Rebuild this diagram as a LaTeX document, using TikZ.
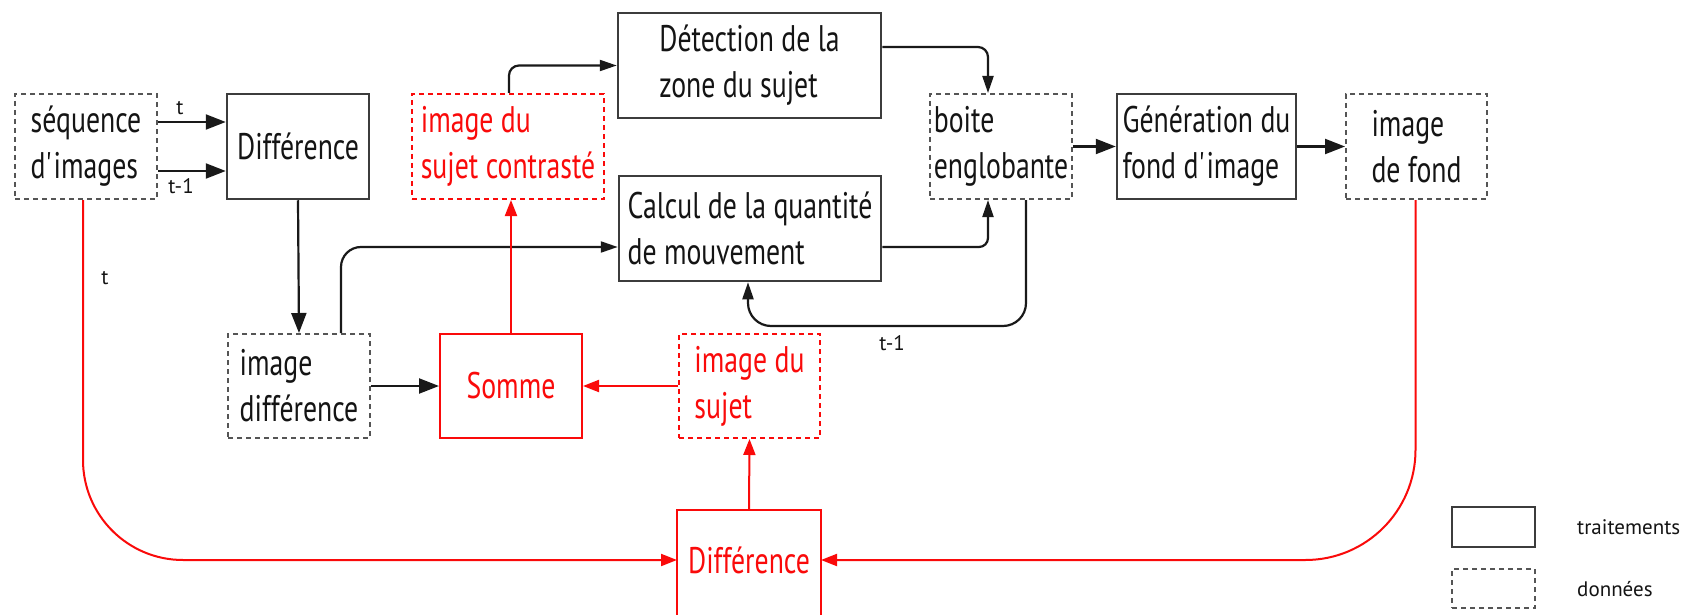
\documentclass[tikz,border=0pt]{standalone}
\usepackage{fontspec}
\setmainfont{PT Sans}[FakeStretch=0.75]
\newfontfamily\lblfam{PT Sans}
\usetikzlibrary{arrows.meta,calc}
\definecolor{boxgray}{RGB}{60,60,60}
\definecolor{dashgray}{RGB}{85,85,85}
\definecolor{lnblack}{RGB}{25,25,25}
\definecolor{txtblack}{RGB}{20,20,20}
\definecolor{myred}{RGB}{250,10,10}
\tikzset{
  box/.style={draw=boxgray, line width=2.5pt, minimum height=105pt, inner sep=0pt, align=left, text=txtblack, font={\fontsize{37}{46}\selectfont}},
  dbox/.style={box, draw=dashgray, line width=2pt, dash pattern=on 5pt off 4pt},
  rbox/.style={box, draw=myred, line width=2pt, text=myred},
  rdbox/.style={rbox, dash pattern=on 5pt off 4pt},
  conn/.style={draw=lnblack, line width=2.2pt},
  rconn/.style={draw=myred, line width=2pt},
  bigarr/.style={-{Triangle[length=20pt,width=15pt]}},
  midarr/.style={-{Triangle[length=17pt,width=11pt]}},
  redarr/.style={-{Triangle[length=16pt,width=12pt]}},
  lbl/.style={inner sep=0pt, text=txtblack, font={\lblfam\fontsize{21}{25}\selectfont}},
}
\begin{document}
\begin{tikzpicture}[x=1pt,y=-1pt]
\clip (0,0) rectangle (1681,615);
\fill[white] (0,0) rectangle (1681,615);
% nodes
\node[dbox, minimum width=142pt] (seq) at (86,146.5) {séquence\\d\textquotesingle images};
\node[box, minimum width=142pt] (dif1) at (298,146.5) {Différence};
\node[box, minimum width=263pt] (detect) at (749.5,65.5) {Détection de la\\zone du sujet};
\node[rdbox, minimum width=192pt] (contr) at (508,146.5) {image du\\sujet contrasté};
\node[box, minimum width=262pt] (calcul) at (750,228.5) {Calcul de la quantité\\de mouvement};
\node[dbox, minimum width=142pt] (boite) at (1001,146.5) {boite\\englobante};
\node[box, minimum width=179pt] (gen) at (1206.5,146.5) {Génération du\\fond d\textquotesingle image};
\node[dbox, minimum width=141pt] (fond) at (1416.5,146.5) {image\\de fond};
\node[dbox, minimum width=142pt, minimum height=104pt] (imdiff) at (299,386) {image\\différence};
\node[rbox, minimum width=142pt, minimum height=104pt] (somme) at (511,386) {Somme};
\node[rdbox, minimum width=141pt, minimum height=104pt] (sujet) at (749.5,386) {image du\\sujet};
\node[rbox, draw=none, minimum width=142pt, minimum height=98pt] (dif2) at (749,560) {Différence};
\draw[rconn] ($(dif2.south west)+(0,60)$) -- (dif2.north west) -- (dif2.north east) -- ($(dif2.south east)+(0,60)$);
% labels
\node[lbl] (lt1) at (180,108) {t};
\node[lbl] (lt2) at (181,186) {t-1};
\node[lbl] (lt3) at (105,278) {t};
\node[lbl] (lt4) at (892,343) {t-1};
% legend
\node[box, line width=2.5pt, minimum width=83pt, minimum height=40pt] (leg1) at (1493.5,527) {};
\node[dbox, minimum width=83pt, minimum height=39pt] (leg2) at (1493.5,588.5) {};
\node[lbl, anchor=west] (legt1) at (1577,527) {traitements};
\node[lbl, anchor=west] (legt2) at (1577,589) {données};
% black connectors
\draw[conn, bigarr] ($(seq.east)+(0,-24.5)$) -- ($(dif1.west)+(0,-24.5)$);
\draw[conn, bigarr] ($(seq.east)+(0,24.5)$) -- ($(dif1.west)+(0,24.5)$);
\draw[conn, bigarr] (dif1.south) -- (imdiff.north);
\draw[conn, bigarr] (imdiff.east) -- (somme.west);
\draw[conn, midarr, rounded corners=10pt] ($(contr.north)+(1,0)$) |- (detect.west);
\draw[conn, midarr, rounded corners=20pt] ($(imdiff.north)+(42,0)$) |- ($(calcul.west)+(0,18.5)$);
\draw[conn, midarr, rounded corners=10pt] ($(detect.east)+(0,-18.5)$) -| ($(boite.north)+(-13,0)$);
\draw[conn, midarr, rounded corners=9pt] ($(calcul.east)+(0,18.5)$) -| ($(boite.south)+(-13,0)$);
\draw[conn, midarr, rounded corners=23pt] ($(boite.south)+(25,0)$) -- ++(0,126) -| ($(calcul.south)+(-2,0)$);
\draw[conn, bigarr] (boite.east) -- (gen.west);
\draw[conn, bigarr] (gen.east) -- (fond.west);
% red connectors
\draw[rconn, redarr] (sujet.west) -- (somme.east);
\draw[rconn, redarr] (somme.north) -- (somme.north |- contr.south);
\draw[rconn, redarr] (dif2.north) -- (sujet.south);
\draw[rconn, redarr, rounded corners=100pt] ($(seq.south)+(-3,0)$) |- (dif2.west);
\draw[rconn, redarr, rounded corners=110pt] ($(fond.south)+(-1,0)$) |- (dif2.east);
\end{tikzpicture}
\end{document}
